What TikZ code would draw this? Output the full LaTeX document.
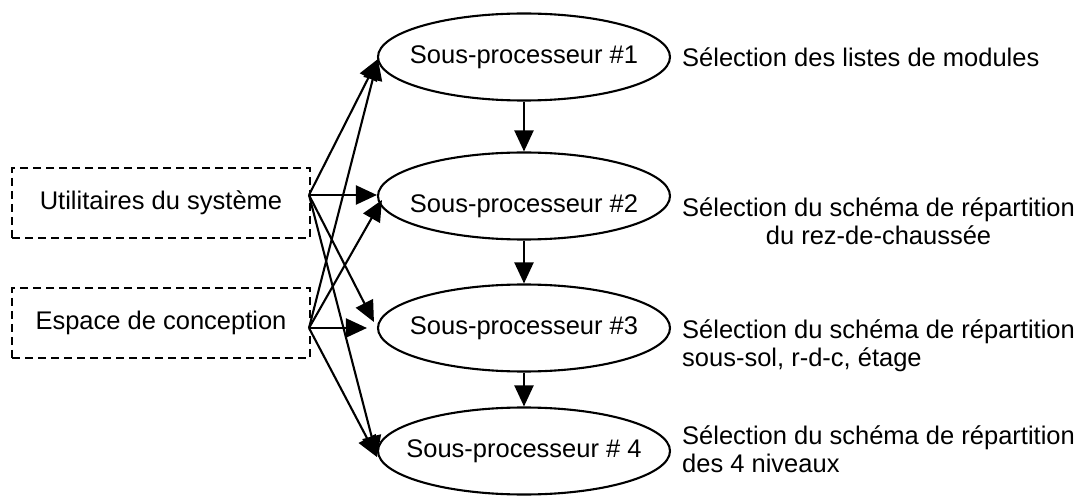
\documentclass[tikz,border=0pt]{standalone}
\usepackage{fontspec}
\setmainfont{Liberation Sans}
\usetikzlibrary{arrows.meta,calc,shapes.geometric}

\tikzset{
  proc/.style={draw, ellipse, line width=2.1pt, minimum width=292pt,
    minimum height=87pt, inner xsep=-40pt, inner ysep=0pt},
  util/.style={draw, dash pattern=on 8pt off 5pt, line width=1.9pt,
    minimum width=298pt, minimum height=70pt, inner sep=0pt},
  desc/.style={anchor=west, inner sep=0pt},
  arr/.style={line width=2.1pt, -{Triangle[length=21pt,width=19pt]}},
}

\begin{document}
\begin{tikzpicture}[x=1pt, y=-1pt, font=\fontsize{25.5}{28}\selectfont]
\path[use as bounding box] (0,0) rectangle (1085,497);

% sub-processors
\node[proc] (E1) at (524,57)  {Sous-processeur \#1};
\node[proc] (E2) at (524,196) {\raisebox{-10pt}[\height][\depth]{Sous-processeur \#2}};
\node[proc] (E3) at (524,328) {Sous-processeur \#3};
\node[proc] (E4) at (524,451) {Sous-processeur \# 4};

% inputs
\node[util] (B1) at (161,203) {Utilitaires du système};
\node[util] (B2) at (161,323) {Espace de conception};
\coordinate (s1) at (309,195);
\coordinate (s2) at (309,328);

% descriptions
\node[desc] (T1) at (682,57)  {Sélection des listes de modules};
\node[desc, align=center] (T2) at (682,221)
  {Sélection du schéma de répartition\\du rez-de-chaussée};
\node[desc, align=left] (T3) at (682,346)
  {Sélection du schéma de répartition\\sous-sol, r-d-c, étage};
\node[desc, align=left] (T4) at (682,449)
  {Sélection du schéma de répartition\\des 4 niveaux};

% chain of sub-processors
\draw[arr] (E1.south) -- (E2.north);
\draw[arr] (E2.south) -- (E3.north);
\draw[arr] (E3.south) -- (E4.north);

% fan-out from the inputs
\draw[arr] (s1) -- ($(E1.west)+(1,2)$);
\draw[arr] (s2) -- ($(E1.west)+(1,2)$);
\draw[arr] (s1) -- (s1 -| E2.west);
\draw[arr] (s2) -- ($(E2.west)+(5,4)$);
\draw[arr] (s1) -- ($(E3.west)+(-3,-6)$);
\draw[arr] (s2) -- ($(s2 -| E3.west)+(-10,0)$);
\draw[arr] (s1) -- ($(E4.west)+(0,6)$);
\draw[arr] (s2) -- ($(E4.west)+(0,6)$);
\end{tikzpicture}
\end{document}
